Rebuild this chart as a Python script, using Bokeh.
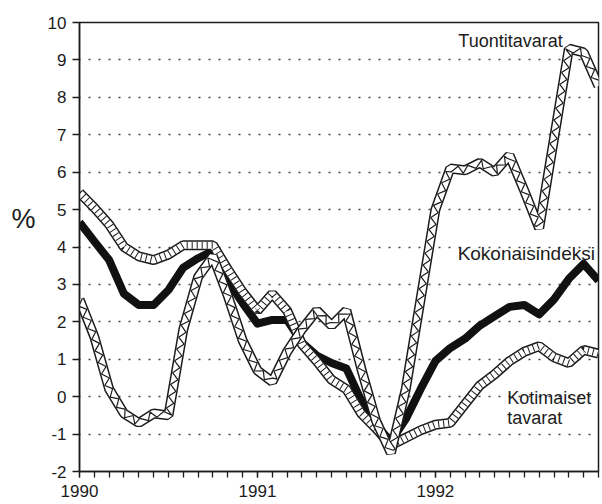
import numpy as np
from bokeh.plotting import figure
from bokeh.models import Range1d, FixedTicker, Label, LinearAxis
from bokeh.embed import file_html
from bokeh.resources import INLINE

# ---- data (monthly, Jan 1990 .. Dec 1992), % change ----
months = list(range(36))
year_ticks = [0, 12, 24]
year_labels = ["1990", "1991", "1992"]
y_ticks = list(range(-2, 11))

kokonaisindeksi = [4.66, 4.15, 3.65, 2.75, 2.45, 2.45, 2.85, 3.45, 3.7, 3.9, 3.1, 2.5,
                   1.95, 2.05, 2.05, 1.45, 1.1, 0.9, 0.75, -0.1, -0.75, -1.2, -0.6, 0.2,
                   0.95, 1.3, 1.55, 1.9, 2.15, 2.4, 2.45, 2.2, 2.6, 3.15, 3.55, 3.1]
kotimaiset = [5.45, 5.05, 4.6, 4.0, 3.75, 3.65, 3.8, 4.05, 4.05, 4.05, 3.4, 2.8,
              2.3, 2.75, 2.3, 1.4, 0.95, 0.45, 0.2, -0.45, -0.85, -1.3, -1.1, -0.9,
              -0.75, -0.7, -0.2, 0.3, 0.6, 0.95, 1.2, 1.35, 1.05, 0.9, 1.25, 1.15]
tuontitavarat = [2.6, 1.6, 0.2, -0.45, -0.7, -0.45, -0.5, 1.8, 3.2, 3.75, 2.7, 1.5,
                 0.7, 0.4, 1.2, 1.8, 2.3, 1.9, 2.3, 0.75, -0.65, -1.5, 0.2, 2.6,
                 5.0, 6.1, 6.05, 6.25, 6.0, 6.45, 5.5, 4.5, 6.9, 9.3, 9.2, 8.3]

FONT = "Liberation Sans"
INK = "#1c1c1c"

FW, FH = 519, 449
X0, X1 = 0, 35
Y0, Y1 = -2, 10
SX = FW / (X1 - X0)
SY = FH / (Y1 - Y0)

p = figure(width=600, height=504, output_backend="svg", toolbar_location=None,
           x_range=Range1d(X0, X1), y_range=Range1d(Y0, Y1),
           min_border_left=79, min_border_right=2, min_border_top=22,
           min_border_bottom=33)
p.background_fill_color = "white"
p.border_fill_color = "white"
p.outline_line_color = INK
p.outline_line_width = 1.5

# axes
p.xaxis.ticker = FixedTicker(ticks=year_ticks, minor_ticks=months)
p.xaxis.major_label_overrides = dict(zip(year_ticks, year_labels))
p.xaxis.major_tick_in = 0
p.xaxis.major_tick_out = 6
p.xaxis.minor_tick_in = 0
p.xaxis.minor_tick_out = 6
p.xaxis.minor_tick_line_width = 1.3
p.xaxis.major_tick_line_width = 1.3
p.xaxis.minor_tick_line_color = INK
p.xaxis.major_tick_line_color = INK
p.xaxis.major_label_standoff = 7

p.yaxis.ticker = FixedTicker(ticks=y_ticks, minor_ticks=[])
p.yaxis.major_label_overrides = {v: str(v) for v in y_ticks}
p.yaxis.major_tick_in = 0
p.yaxis.major_tick_out = 7
p.yaxis.major_tick_line_width = 1.3
p.yaxis.major_tick_line_color = INK
p.yaxis.major_label_standoff = 6

for ax in (p.xaxis, p.yaxis):
    ax.axis_line_color = INK
    ax.axis_line_width = 1.5
    ax.major_label_text_font = FONT
    ax.major_label_text_font_size = "17px"
    ax.major_label_text_color = INK

# extra (invisible) left axis that only carries the "%" unit label;
# the blank second line lifts the sign above the frame's middle
unit_axis = LinearAxis(ticker=FixedTicker(ticks=[]),
                       axis_label="%\n ", axis_label_orientation="horizontal",
                       axis_label_text_font=FONT, axis_label_text_font_size="27px",
                       axis_label_text_font_style="normal",
                       axis_label_text_line_height=1.85,
                       axis_label_text_color=INK, axis_label_standoff=9,
                       axis_line_color=None, major_tick_line_color=None,
                       minor_tick_line_color=None)
p.add_layout(unit_axis, "left")

p.xgrid.visible = False
p.ygrid.ticker = FixedTicker(ticks=y_ticks[1:-1])
p.ygrid.grid_line_color = "#444444"
p.ygrid.grid_line_width = 1.5
p.ygrid.grid_line_dash = "2 8"
p.ygrid.grid_line_dash_offset = 1


def truss(xs, ys, step=6.0, amp=3.2):
    px = np.asarray(xs, float) * SX
    py = np.asarray(ys, float) * SY
    dx = np.diff(px)
    dy = np.diff(py)
    seg = np.hypot(dx, dy)
    cum = np.concatenate([[0.0], np.cumsum(seg)])
    out_x, out_y = [], []
    for k, si in enumerate(np.arange(0.0, cum[-1], step)):
        i = int(min(np.searchsorted(cum, si, side="right") - 1, len(seg) - 1))
        t = (si - cum[i]) / seg[i]
        x = px[i] + t * dx[i]
        y = py[i] + t * dy[i]
        nx, ny = -dy[i] / seg[i], dx[i] / seg[i]
        sgn = 1 if k % 2 == 0 else -1
        out_x.append((x + sgn * amp * nx) / SX)
        out_y.append((y + sgn * amp * ny) / SY)
    return out_x, out_y


def band(xs, ys, kind):
    p.line(xs, ys, line_color=INK, line_width=10, line_join="bevel")
    p.line(xs, ys, line_color="white", line_width=7, line_join="bevel")
    if kind == "ladder":
        p.line(xs, ys, line_color=INK, line_width=7, line_dash="1 4",
               line_join="bevel")
    else:
        tx, ty = truss(xs, ys)
        p.line(tx, ty, line_color=INK, line_width=1.2)


p.line(months, kokonaisindeksi, line_color="#111111", line_width=8,
       line_join="round")
band(months, kotimaiset, "ladder")
band(months, tuontitavarat, "truss")


# text labels
def lab(x, y, text, size="18px"):
    p.add_layout(Label(x=x, y=y, text=text, text_font=FONT, text_font_size=size,
                       text_color=INK, text_align="left",
                       text_baseline="alphabetic"))


lab(25.55, 9.5, "Tuontitavarat")
lab(25.5, 3.83, "Kokonaisindeksi", size="19px")
lab(28.85, -0.03, "Kotimaiset")
lab(28.85, -0.56, "tavarat")

open("out.html", "w").write(file_html(p, INLINE))
